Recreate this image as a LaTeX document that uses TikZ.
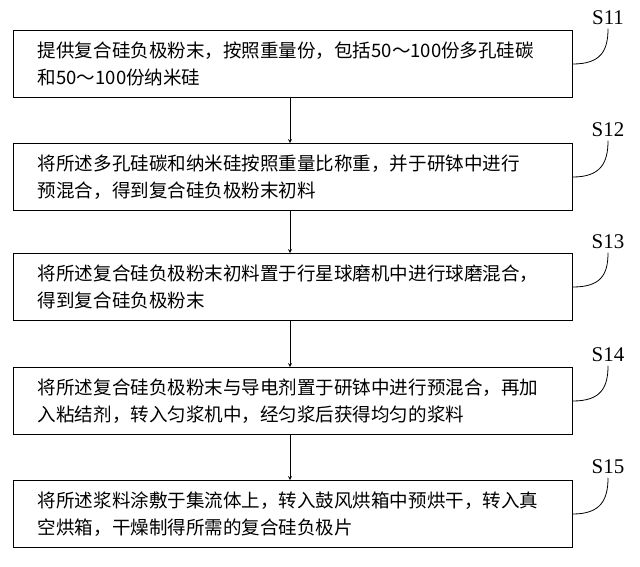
\documentclass[tikz,border=0pt]{standalone}
\usepackage{fontspec}
\newfontfamily\cjk{Noto Sans CJK SC}
\setmainfont{Liberation Serif}
\usetikzlibrary{positioning}
\tikzset{
	stepbox/.style = {draw, thick, rectangle, align=left, text width=510bp, inner xsep=24.5bp, minimum height=67bp, font=\cjk\fontsize{18.6}{27}\selectfont},
	steplabel/.style = {font=\fontsize{21}{22}\selectfont},
	every path/.style = {thick}
}
\begin{document}
\begin{tikzpicture}[x=1bp, y=-1bp, >=stealth]
		\useasboundingbox (0,0) rectangle (640,567);
		% steps
		\node[stepbox, anchor=west] (s1) at (13,64) {提供复合硅负极粉末，按照重量份，包括50～100份多孔硅碳\\和50～100份纳米硅};
		\node[stepbox, anchor=west] (s2) at (13,177) {将所述多孔硅碳和纳米硅按照重量比称重，并于研钵中进行\\预混合，得到复合硅负极粉末初料};
		\node[stepbox, anchor=west] (s3) at (13,287) {将所述复合硅负极粉末初料置于行星球磨机中进行球磨混合，\\得到复合硅负极粉末};
		\node[stepbox, anchor=west] (s4) at (13,401) {将所述复合硅负极粉末与导电剂置于研钵中进行预混合，再加\\入粘结剂，转入匀浆机中，经匀浆后获得均匀的浆料};
		\node[stepbox, anchor=west] (s5) at (13,514) {将所述浆料涂敷于集流体上，转入鼓风烘箱中预烘干，转入真\\空烘箱，干燥制得所需的复合硅负极片};
		% arrows
		\foreach \a/\b in {1/2, 2/3, 3/4, 4/5}
			\draw[->] (s\a.south -| 290,0) -- (s\b.north -| 290,0);
		% labels
		\foreach \n/\y in {1/18, 2/130, 3/242, 4/355, 5/467} {
			\node[steplabel] (l\n) at (608,\y) {S1\n};
			\draw (s\n.east) .. controls ++(28,0) and ++(0,22) .. (l\n.south);
		}
	\end{tikzpicture}
\end{document}
